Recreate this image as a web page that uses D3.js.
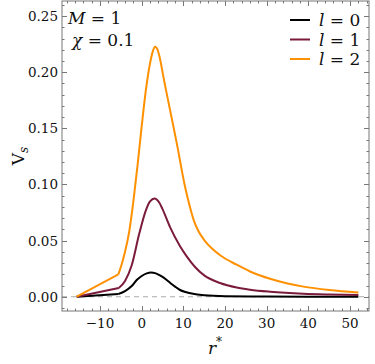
<!DOCTYPE html>
<html><head><meta charset="utf-8">
<script src="https://cdn.jsdelivr.net/npm/d3@7"></script>
<style>body{margin:0;background:#fff}svg{display:block}</style>
</head><body><div id="c"></div>
<script>
// r* values and potential values
const rL0 = [-15.6, -5.6, -4, -2.4, -1.2, 0, 1.2, 2.2, 3.4, 4.6, 6, 7, 8, 9.2, 10.5, 12, 15, 20, 30, 40, 52];
const vL0 = [0, 0.0025, 0.005, 0.0095, 0.0149, 0.0185, 0.0208, 0.0217, 0.0208, 0.0185, 0.0149, 0.0118, 0.009, 0.006, 0.0042, 0.0028, 0.0013, 0.0005, 0.0002, 0.0001, 0.0001];
const rL1 = [-15.6, -5.5, -4, -2.4, -0.6, 1, 2, 3.1, 4.2, 5, 6.8, 9.2, 10.8, 12.8, 15, 18.8, 22.8, 26, 30.8, 38.8, 45, 52];
const vL1 = [0, 0.0078, 0.014, 0.028, 0.056, 0.077, 0.085, 0.0876, 0.084, 0.078, 0.062, 0.045, 0.036, 0.0265, 0.019, 0.0122, 0.0082, 0.0063, 0.0045, 0.0027, 0.002, 0.0015];
const rL2 = [-15.6, -5.6, -4.8, -4, -3, -2, -1, 0, 1, 2, 2.7, 3.2, 3.8, 4.5, 5.2, 6.6, 8.4, 10.4, 11.5, 12.5, 13.6, 15, 17, 19, 22.8, 26, 30.8, 35, 38.8, 45, 52];
const vL2 = [0, 0.0199, 0.029, 0.040, 0.058, 0.085, 0.117, 0.152, 0.184, 0.208, 0.219, 0.2227, 0.220, 0.210, 0.196, 0.170, 0.137, 0.098, 0.081, 0.068, 0.0585, 0.0505, 0.0425, 0.0365, 0.0285, 0.0225, 0.016, 0.0118, 0.009, 0.006, 0.0038];
const seriesNames = ["l = 0", "l = 1", "l = 2"];
const seriesColors = ["#000000", "#7b1b3c", "#ff9000"];
const yTicks = [0, 0.05, 0.10, 0.15, 0.20, 0.25];
const xTicks = [-10, 0, 10, 20, 30, 40, 50];

const FONT = "DejaVu Serif, Liberation Serif, serif";
const W = 375, H = 364;
const L = 62, R = 369, T = 1, B = 311;
const x = d3.scaleLinear().domain([-19.13, 54.55]).range([L, R]);
const y = d3.scaleLinear().domain([-0.0127, 0.2634]).range([B, T]);

const svg = d3.select("#c").append("svg").attr("width", W).attr("height", H)
  .attr("font-family", FONT).style("font-family", FONT);

// zero dashed line
svg.append("line").attr("x1", L).attr("x2", R).attr("y1", y(0)).attr("y2", y(0))
  .attr("stroke", "#aaa").attr("stroke-width", 1.2).attr("stroke-dasharray", "5,4");

const series = [[rL0, vL0], [rL1, vL1], [rL2, vL2]];
svg.append("clipPath").attr("id", "cp").append("rect").attr("x", L).attr("y", T).attr("width", R - L).attr("height", B - T);
const g = svg.append("g").attr("clip-path", "url(#cp)");
series.forEach(([rs, vs], i) => {
  const pts = rs.map((r, k) => [r, vs[k]]);
  const lin = d3.line().x(d => x(d[0])).y(d => y(d[1]));
  const smooth = d3.line().x(d => x(d[0])).y(d => y(d[1])).curve(d3.curveMonotoneX);
  g.append("path").attr("d", lin(pts.slice(0, 2))).attr("fill", "none").attr("stroke", seriesColors[i]).attr("stroke-width", 2);
  g.append("path").attr("d", smooth(pts.slice(1))).attr("fill", "none").attr("stroke", seriesColors[i]).attr("stroke-width", 2);
});

// frame
const fc = "#777";
svg.append("rect").attr("x", L).attr("y", T).attr("width", R - L).attr("height", B - T)
  .attr("fill", "none").attr("stroke", fc).attr("stroke-width", 1);

// ticks
const yMinor = d3.range(-0.01, 0.2601, 0.01);
const xMinor = d3.range(-18, 54.1, 2);
function tick(x1, y1, x2, y2) {
  svg.append("line").attr("x1", x1).attr("y1", y1).attr("x2", x2).attr("y2", y2).attr("stroke", fc).attr("stroke-width", 1);
}
yMinor.forEach(v => {
  const major = yTicks.some(t => Math.abs(t - v) < 1e-6);
  const len = major ? 5 : 2.5;
  const yy = Math.round(y(v)) + 0.5;
  tick(L, yy, L + len, yy);
  tick(R, yy, R - len, yy);
});
xMinor.forEach(v => {
  const major = xTicks.some(t => Math.abs(t - v) < 1e-6);
  const len = major ? 5 : 2.5;
  const xx = Math.round(x(v)) + 0.5;
  tick(xx, B, xx, B - len);
  tick(xx, T, xx, T + len);
});

// tick labels
yTicks.forEach(v => {
  svg.append("text").attr("x", L - 4).attr("y", y(v) + 5).attr("text-anchor", "end")
    .attr("font-size", 13.5).attr("fill", "#111").text(v.toFixed(2));
});
xTicks.forEach(v => {
  svg.append("text").attr("x", x(v)).attr("y", 328).attr("text-anchor", "middle")
    .attr("font-size", 13.5).attr("fill", "#111").text(v < 0 ? "\u2212" + Math.abs(v) : String(v));
});

// axis labels
const xl = svg.append("text").attr("x", 215).attr("y", 354).attr("text-anchor", "middle").attr("font-size", 17).attr("fill", "#111");
xl.append("tspan").attr("font-style", "italic").text("r");
xl.append("tspan").attr("font-size", 12).attr("dy", -8).text("*");
const yl = svg.append("text").attr("transform", "translate(24,156) rotate(-90)").attr("text-anchor", "middle").attr("font-size", 17).attr("fill", "#111");
yl.append("tspan").text("V");
yl.append("tspan").attr("font-size", 12).attr("font-style", "italic").attr("dy", 4).text("s");

// parameters
const p1 = svg.append("text").attr("x", 68).attr("y", 24).attr("font-size", 17).attr("fill", "#111");
p1.append("tspan").attr("font-style", "italic").text("M");
p1.append("tspan").text(" = 1");
const p2 = svg.append("text").attr("x", 72).attr("y", 46).attr("font-size", 17).attr("fill", "#111");
p2.append("tspan").attr("font-style", "italic").text("\u03c7");
p2.append("tspan").text(" = 0.1");

// legend
seriesNames.forEach((nm, i) => {
  const yy = 20 + i * 19.5;
  svg.append("line").attr("x1", 290).attr("x2", 310).attr("y1", yy).attr("y2", yy).attr("stroke", seriesColors[i]).attr("stroke-width", 2);
  const t = svg.append("text").attr("x", 319).attr("y", yy + 6).attr("font-size", 17).attr("fill", "#111");
  const parts = nm.split(" = ");
  t.append("tspan").attr("font-style", "italic").text(parts[0]);
  t.append("tspan").text(" = " + parts[1]);
});
</script></body></html>
